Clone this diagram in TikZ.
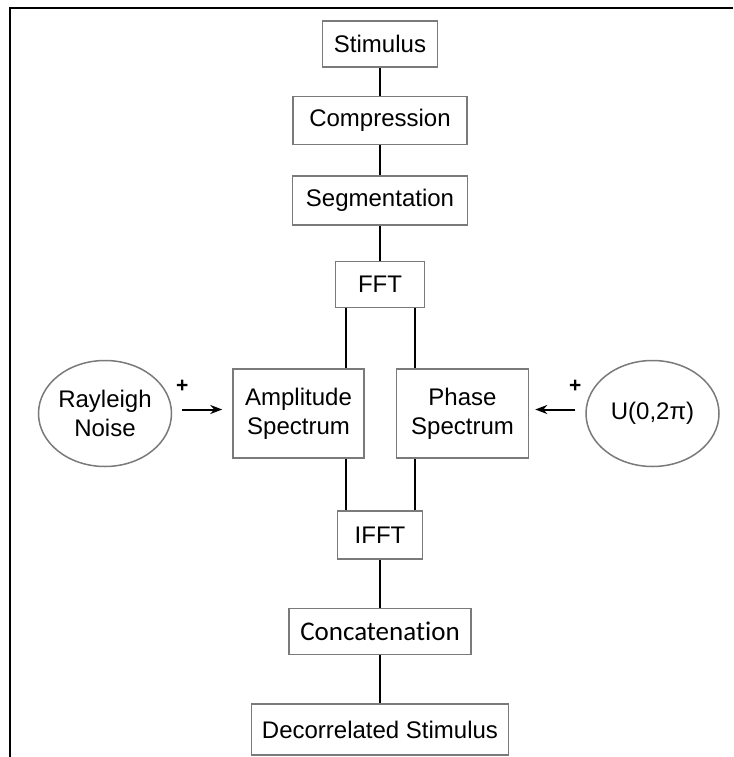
\documentclass[tikz,border=0pt]{standalone}
\usepackage{fontspec}
\setmainfont{Liberation Sans}
\newfontfamily\carlito[Ligatures=NoCommon]{Carlito}
\usepackage{tikz}
\usetikzlibrary{shapes.geometric, arrows.meta, positioning}
\definecolor{edgegray}{RGB}{122, 122, 122}

\begin{document}
\begin{tikzpicture}[
			x=1pt, y=-1pt,
			box/.style={rectangle, draw=edgegray, fill=white, align=center, line width=1.5pt, inner sep=0pt, font=\fontsize{24}{29}\selectfont},
			src/.style={ellipse, draw=edgegray, fill=white, align=center, line width=1.5pt, inner sep=0pt, minimum width=133pt, minimum height=106pt, font=\fontsize{24}{29}\selectfont},
			link/.style={line width=2pt},
			feed/.style={line width=2pt, -{Stealth[length=12pt, width=9pt]}},
			sign/.style={font=\fontsize{21}{21}\selectfont\bfseries, inner sep=0pt}
			]
			\useasboundingbox (0,0) rectangle (733,757);
			% Frame
			\draw[line width=2pt] (10,757) -- (10,8) -- (733,8);
			
			% Level 1
			\node[box, minimum width=115pt, minimum height=46pt] (stim) at (380,44) {Stimulus};
			\node[box, below=28pt of stim, minimum width=174pt, minimum height=48pt] (comp) {Compression};
			\node[box, below=30pt of comp, minimum width=175pt, minimum height=49pt] (seg) {Segmentation};
			\node[box, below=35pt of seg, minimum width=89pt, minimum height=46pt] (fft) {FFT};
			
			% Level 2
			\node[box, below=60pt of fft, xshift=-81.5pt, minimum width=131pt, minimum height=89pt] (amp) {Amplitude\\Spectrum};
			\node[box, right=31pt of amp, minimum width=132pt, minimum height=89pt] (phs) {Phase\\Spectrum};
			\node[src, left=60pt of amp] (noise) {Rayleigh\\Noise};
			\node[src, right=56pt of phs] (unif) {U(0,2π)};
			
			% Level 3
			\node[box, below=202pt of fft, minimum width=85pt, minimum height=48pt] (ifft) {IFFT};
			\node[box, below=48pt of ifft, minimum width=182pt, minimum height=46pt, font=\carlito\fontsize{27}{32}\selectfont] (concat) {Concatenation};
			\node[box, below=48pt of concat, minimum width=257pt, minimum height=51pt] (decor) {Decorrelated Stimulus};
			
			% Lines
			\coordinate (fl) at ([xshift=11pt]fft.south west);
			\coordinate (fr) at ([xshift=-10pt]fft.south east);
			\draw[link] (stim) -- (comp);
			\draw[link] (comp) -- (seg);
			\draw[link] (seg) -- (fft);
			\draw[link] (fl) -- (fl |- amp.north);
			\draw[link] (fr) -- (fr |- phs.north);
			\draw[link] (fl |- amp.south) -- (fl |- ifft.north);
			\draw[link] (fr |- phs.south) -- (fr |- ifft.north);
			\draw[link] (ifft) -- (concat);
			\draw[link] (concat) -- (decor);
			
			% Arrows
			\draw[feed, shorten <=10pt, shorten >=10pt] ([yshift=4pt]noise.east) -- ([yshift=4pt]amp.west);
			\draw[feed, shorten <=10pt, shorten >=6pt] ([yshift=4pt]unif.west) -- ([yshift=4pt]phs.east);
			\node[sign] (pl) at ([xshift=10pt, yshift=27pt]noise.east) {+};
			\node[sign] (pr) at ([xshift=-10pt, yshift=27pt]unif.west) {+};
		\end{tikzpicture}
\end{document}
